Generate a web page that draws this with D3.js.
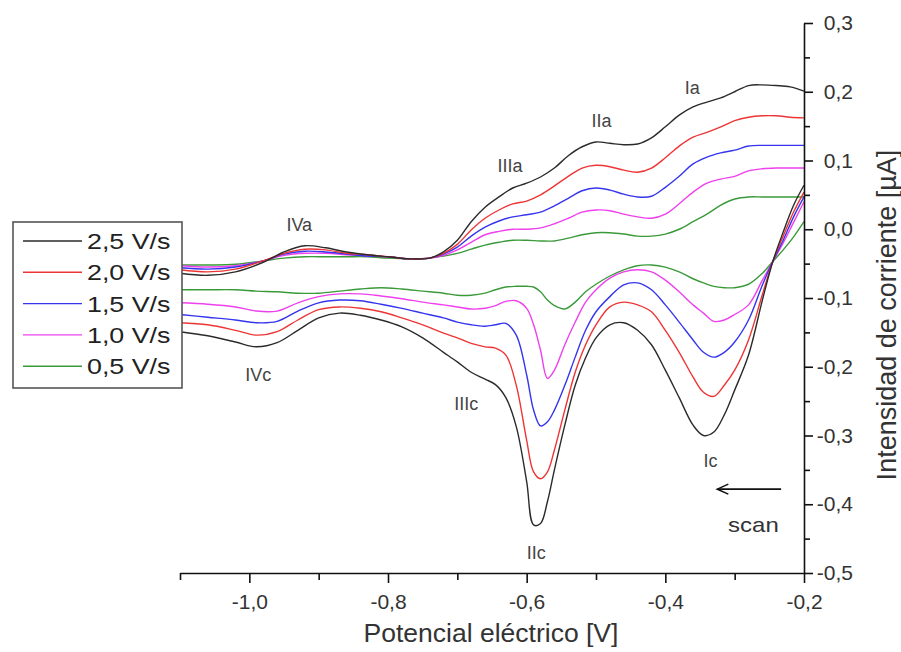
<!DOCTYPE html>
<html><head><meta charset="utf-8">
<script src="https://cdn.jsdelivr.net/npm/d3@7/dist/d3.min.js"></script>
<style>body{margin:0;background:#fff}svg{display:block;font-family:"Liberation Sans",Arial,sans-serif}</style>
</head><body>
<svg id="c" width="901" height="652"></svg>
<script>
// Potential grid (V) for the anodic (upper) and cathodic (lower) branches
const xAnodic = [-1.1,-1.06,-1.02,-0.98,-0.95,-0.92,-0.89,-0.86,-0.83,-0.80,-0.77,-0.74,-0.72,-0.70,-0.68,-0.66,-0.64,-0.62,-0.60,-0.58,-0.56,-0.54,-0.52,-0.50,-0.48,-0.46,-0.44,-0.42,-0.40,-0.38,-0.36,-0.34,-0.32,-0.30,-0.28,-0.26,-0.24,-0.22,-0.20];
const xCathodic = [-1.1,-1.06,-1.02,-0.99,-0.96,-0.93,-0.90,-0.87,-0.84,-0.81,-0.78,-0.75,-0.72,-0.70,-0.68,-0.66,-0.645,-0.63,-0.615,-0.60,-0.59,-0.58,-0.57,-0.56,-0.545,-0.53,-0.515,-0.50,-0.48,-0.46,-0.44,-0.42,-0.40,-0.38,-0.36,-0.345,-0.33,-0.315,-0.30,-0.28,-0.26,-0.245,-0.23,-0.215,-0.20];

const rates = ["2,5 V/s","2,0 V/s","1,5 V/s","1,0 V/s","0,5 V/s"];
const colors = ["#2b2b2b","#ee3535","#3535ee","#ee40ee","#3a9a3a"];

// current (µA)
const anodic25 = [-0.064,-0.067,-0.062,-0.048,-0.033,-0.024,-0.027,-0.033,-0.037,-0.040,-0.043,-0.042,-0.033,-0.016,0.011,0.032,0.047,0.060,0.067,0.076,0.089,0.107,0.120,0.127,0.125,0.123,0.124,0.133,0.149,0.166,0.178,0.185,0.191,0.200,0.209,0.210,0.209,0.207,0.201];
const anodic20 = [-0.059,-0.062,-0.058,-0.046,-0.035,-0.029,-0.030,-0.035,-0.037,-0.040,-0.043,-0.042,-0.035,-0.022,-0.001,0.016,0.028,0.037,0.041,0.050,0.063,0.077,0.089,0.093,0.091,0.086,0.083,0.089,0.104,0.121,0.134,0.141,0.149,0.158,0.163,0.165,0.165,0.163,0.162];
const anodic15 = [-0.056,-0.058,-0.055,-0.046,-0.036,-0.032,-0.033,-0.036,-0.039,-0.040,-0.043,-0.042,-0.036,-0.026,-0.010,0.003,0.012,0.018,0.021,0.025,0.034,0.045,0.056,0.060,0.057,0.051,0.047,0.048,0.061,0.077,0.095,0.105,0.111,0.115,0.121,0.122,0.122,0.122,0.122];
const anodic10 = [-0.053,-0.055,-0.053,-0.046,-0.038,-0.035,-0.035,-0.037,-0.039,-0.040,-0.043,-0.042,-0.038,-0.030,-0.019,-0.008,-0.003,0.000,0.000,0.002,0.008,0.016,0.025,0.028,0.027,0.022,0.018,0.016,0.022,0.037,0.054,0.067,0.073,0.077,0.085,0.088,0.089,0.089,0.089];
const anodic05 = [-0.052,-0.052,-0.051,-0.046,-0.042,-0.040,-0.040,-0.040,-0.040,-0.042,-0.043,-0.042,-0.039,-0.035,-0.029,-0.023,-0.019,-0.016,-0.016,-0.017,-0.017,-0.013,-0.008,-0.005,-0.005,-0.007,-0.010,-0.010,-0.007,0.000,0.011,0.022,0.035,0.044,0.047,0.047,0.047,0.047,0.047];

const cathodic25 = [-0.149,-0.155,-0.164,-0.171,-0.165,-0.147,-0.129,-0.122,-0.125,-0.132,-0.142,-0.158,-0.179,-0.193,-0.208,-0.218,-0.226,-0.245,-0.287,-0.367,-0.430,-0.428,-0.396,-0.350,-0.285,-0.227,-0.187,-0.158,-0.139,-0.136,-0.147,-0.168,-0.205,-0.245,-0.285,-0.300,-0.295,-0.270,-0.234,-0.183,-0.103,-0.047,-0.004,0.035,0.064];
const cathodic20 = [-0.136,-0.139,-0.147,-0.154,-0.149,-0.132,-0.117,-0.113,-0.115,-0.120,-0.129,-0.139,-0.151,-0.158,-0.166,-0.171,-0.173,-0.183,-0.227,-0.307,-0.353,-0.363,-0.353,-0.321,-0.263,-0.208,-0.168,-0.139,-0.113,-0.106,-0.110,-0.120,-0.147,-0.179,-0.215,-0.237,-0.243,-0.227,-0.205,-0.161,-0.095,-0.047,-0.010,0.025,0.054];
const cathodic15 = [-0.124,-0.128,-0.132,-0.136,-0.134,-0.119,-0.107,-0.103,-0.104,-0.109,-0.115,-0.122,-0.129,-0.135,-0.139,-0.141,-0.139,-0.137,-0.154,-0.212,-0.263,-0.286,-0.280,-0.263,-0.227,-0.186,-0.147,-0.120,-0.098,-0.081,-0.078,-0.088,-0.110,-0.135,-0.161,-0.179,-0.186,-0.179,-0.164,-0.132,-0.081,-0.047,-0.016,0.018,0.047];
const cathodic10 = [-0.107,-0.109,-0.113,-0.119,-0.119,-0.107,-0.098,-0.094,-0.094,-0.097,-0.101,-0.106,-0.110,-0.113,-0.116,-0.115,-0.111,-0.105,-0.104,-0.115,-0.139,-0.176,-0.217,-0.205,-0.168,-0.135,-0.106,-0.088,-0.071,-0.062,-0.059,-0.062,-0.074,-0.091,-0.110,-0.122,-0.134,-0.132,-0.124,-0.110,-0.074,-0.047,-0.020,0.010,0.040];
const cathodic05 = [-0.088,-0.088,-0.088,-0.090,-0.091,-0.093,-0.093,-0.090,-0.087,-0.085,-0.087,-0.090,-0.093,-0.096,-0.096,-0.093,-0.088,-0.084,-0.083,-0.083,-0.084,-0.091,-0.103,-0.111,-0.116,-0.106,-0.091,-0.080,-0.068,-0.059,-0.053,-0.052,-0.055,-0.062,-0.072,-0.078,-0.083,-0.085,-0.085,-0.080,-0.064,-0.047,-0.030,-0.011,0.011];

const anodic = [anodic25, anodic20, anodic15, anodic10, anodic05];
const cathodic = [cathodic25, cathodic20, cathodic15, cathodic10, cathodic05];

const xTicks = [-1.0,-0.8,-0.6,-0.4,-0.2];
const xMinor = [-1.1,-0.9,-0.7,-0.5,-0.3];
const yTicks = [-0.5,-0.4,-0.3,-0.2,-0.1,0.0,0.1,0.2,0.3];
const yMinor = [-0.45,-0.35,-0.25,-0.15,-0.05,0.05,0.15,0.25];

const peakNames = ["IVa","IIIa","IIa","Ia","IVc","IIIc","IIc","Ic"];
const peakX = [-0.928,-0.624,-0.492,-0.361,-0.987,-0.687,-0.586,-0.335];
const peakY = [0.006,0.092,0.158,0.206,-0.212,-0.254,-0.471,-0.337];

const svg = d3.select("#c");
const x = d3.scaleLinear().domain([-1.1,-0.2]).range([180,804]);
const y = d3.scaleLinear().domain([-0.5,0.3]).range([573,23]);
const fmt = d => d.toFixed(1).replace(".", ",").replace("-0,0","0,0");

const line = d3.line().x(d=>x(d[0])).y(d=>y(d[1])).curve(d3.curveCatmullRom.alpha(0.5));

const gLines = svg.append("g");
for (let i = rates.length-1; i >= 0; i--) {
  gLines.append("path").attr("d", line(xAnodic.map((v,k)=>[v, anodic[i][k]])))
    .attr("fill","none").attr("stroke",colors[i]).attr("stroke-width",1.4);
  gLines.append("path").attr("d", line(xCathodic.map((v,k)=>[v, cathodic[i][k]])))
    .attr("fill","none").attr("stroke",colors[i]).attr("stroke-width",1.4);
}

// axes
const axisColor = "#111";
const gx = svg.append("g").attr("transform","translate(0,573)");
gx.call(d3.axisBottom(x).tickValues(xTicks).tickFormat(fmt).tickSize(10).tickPadding(11).tickSizeOuter(0));
const gxm = svg.append("g").attr("transform","translate(0,573)");
gxm.call(d3.axisBottom(x).tickValues(xMinor).tickFormat("").tickSize(7).tickSizeOuter(0));
gxm.select(".domain").remove();

const gy = svg.append("g").attr("transform","translate(804,0)");
gy.call(d3.axisRight(y).tickValues(yTicks).tickFormat(fmt).tickSize(9).tickPadding(10).tickSizeOuter(0));
gy.selectAll(".tick text").attr("text-anchor","end").attr("x",49);
const gym = svg.append("g").attr("transform","translate(804,0)");
gym.call(d3.axisRight(y).tickValues(yMinor).tickFormat("").tickSize(6).tickSizeOuter(0));
gym.select(".domain").remove();

svg.selectAll(".domain").attr("stroke",axisColor).attr("stroke-width",1.6);
svg.selectAll(".tick line").attr("stroke",axisColor).attr("stroke-width",1.6);
svg.selectAll(".tick text").attr("font-size",21).attr("fill","#333").attr("font-family","Liberation Sans, Arial, sans-serif");

// axis titles
svg.append("text").attr("x",491).attr("y",642).attr("text-anchor","middle")
  .attr("font-size",26.5).attr("fill","#333").text("Potencial eléctrico [V]");
svg.append("text").attr("transform","translate(896,315) rotate(-90)").attr("text-anchor","middle")
  .attr("font-size",27).attr("fill","#333").text("Intensidad de corriente [µA]");

// peak labels
svg.append("g").selectAll("text").data(peakNames).join("text")
  .attr("x",(d,i)=>x(peakX[i])).attr("y",(d,i)=>y(peakY[i])).attr("dy","0.35em")
  .attr("text-anchor","middle").attr("font-size",18).attr("fill","#444").text(d=>d);

// scan arrow
const ay = y(-0.378);
svg.append("line").attr("x1",x(-0.325)).attr("x2",x(-0.233)).attr("y1",ay).attr("y2",ay).attr("stroke","#111").attr("stroke-width",1.6);
svg.append("path").attr("d",`M${x(-0.325)+11},${ay-5}L${x(-0.325)},${ay}L${x(-0.325)+11},${ay+5}`).attr("fill","none").attr("stroke","#111").attr("stroke-width",1.6);
svg.append("text").attr("transform",`translate(${x(-0.273)},${y(-0.43)+7}) scale(1.2,1)`).attr("text-anchor","middle")
  .attr("font-size",20).attr("fill","#333").text("scan");

// legend
const lg = svg.append("g");
lg.append("rect").attr("x",13).attr("y",222).attr("width",169).attr("height",166).attr("fill","#fff").attr("stroke","#555").attr("stroke-width",1.6);
rates.forEach((r,i)=>{
  const cy = 241 + i*31.3;
  lg.append("line").attr("x1",23).attr("x2",82).attr("y1",cy).attr("y2",cy).attr("stroke",colors[i]).attr("stroke-width",1.4);
  lg.append("text").attr("transform",`translate(87,${cy+8}) scale(1.22,1)`).attr("font-size",22).attr("fill","#222").text(r);
});
</script>
</body></html>
